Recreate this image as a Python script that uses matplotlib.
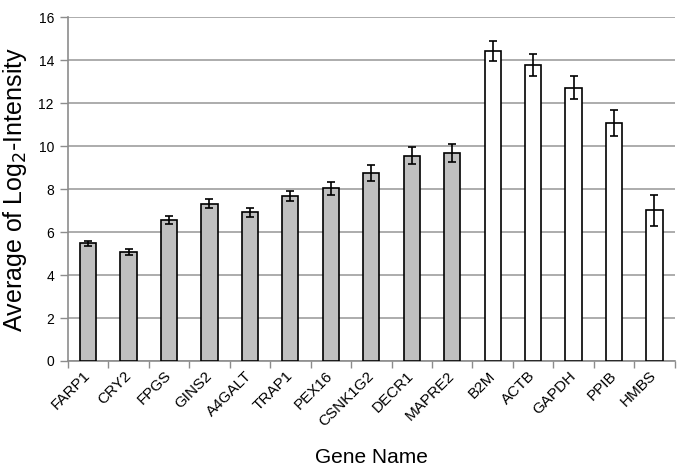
import matplotlib
matplotlib.use("Agg")
import matplotlib.pyplot as plt
import numpy as np

plt.rcParams['font.family'] = ['Liberation Sans', 'DejaVu Sans']

# gene names and mean log2 intensities
genes = ['FARP1', 'CRY2', 'FPGS', 'GINS2', 'A4GALT', 'TRAP1', 'PEX16', 'CSNK1G2',
         'DECR1', 'MAPRE2', 'B2M', 'ACTB', 'GAPDH', 'PPIB', 'HMBS']
means = [5.47, 5.08, 6.56, 7.32, 6.91, 7.69, 8.03, 8.76,
         9.56, 9.68, 14.42, 13.77, 12.71, 11.06, 7.01]
errs = [0.10, 0.14, 0.20, 0.21, 0.23, 0.23, 0.32, 0.37,
        0.38, 0.43, 0.47, 0.50, 0.53, 0.60, 0.72]
# first 10 are candidate genes (grey), last 5 are reference genes (white)
is_candidate = [True] * 10 + [False] * 5

fig = plt.figure(figsize=(6.85, 4.75), dpi=100)
ax = fig.add_axes([0.099, 0.24, 0.886, 0.724])

x = np.arange(len(genes))
colors = ['#c0c0c0' if c else 'white' for c in is_candidate]
ax.bar(x, means, width=0.4, color=colors, edgecolor='black', linewidth=1.2, zorder=3)
ax.errorbar(x, means, yerr=errs, fmt='none', ecolor='black', elinewidth=1.2,
            capsize=3, capthick=1.2, zorder=4)

ax.set_xlim(-0.5, len(genes) - 0.5)
ax.set_ylim(0, 16)
ax.set_yticks(range(0, 17, 2))
ax.yaxis.grid(True, color='#a6a6a6', linewidth=1.3, zorder=0)
ax.set_axisbelow(True)

for s in ['top', 'right']:
    ax.spines[s].set_visible(False)
for s in ['left', 'bottom']:
    ax.spines[s].set_color('#8c8c8c')
    ax.spines[s].set_linewidth(1.2)

# x ticks at category boundaries, labels centred under bars
ax.set_xticks(np.arange(-0.5, len(genes), 1.0))
ax.set_xticklabels([])
ax.set_xticks(x, minor=True)
ax.set_xticklabels(genes, minor=True, rotation=45, ha='right', va='center',
                   rotation_mode='anchor', fontsize=11)
ax.tick_params(axis='x', which='minor', length=0, pad=9)
ax.tick_params(axis='x', which='major', length=5, color='#8c8c8c', width=1)
ax.tick_params(axis='y', length=6, color='#8c8c8c', width=1, labelsize=10, pad=4)

ax.set_xlabel('Gene Name', fontsize=15, labelpad=14)
ax.set_ylabel('Average of Log$_2$-Intensity', fontsize=18, labelpad=7)

fig.savefig('out.png', dpi=100)
